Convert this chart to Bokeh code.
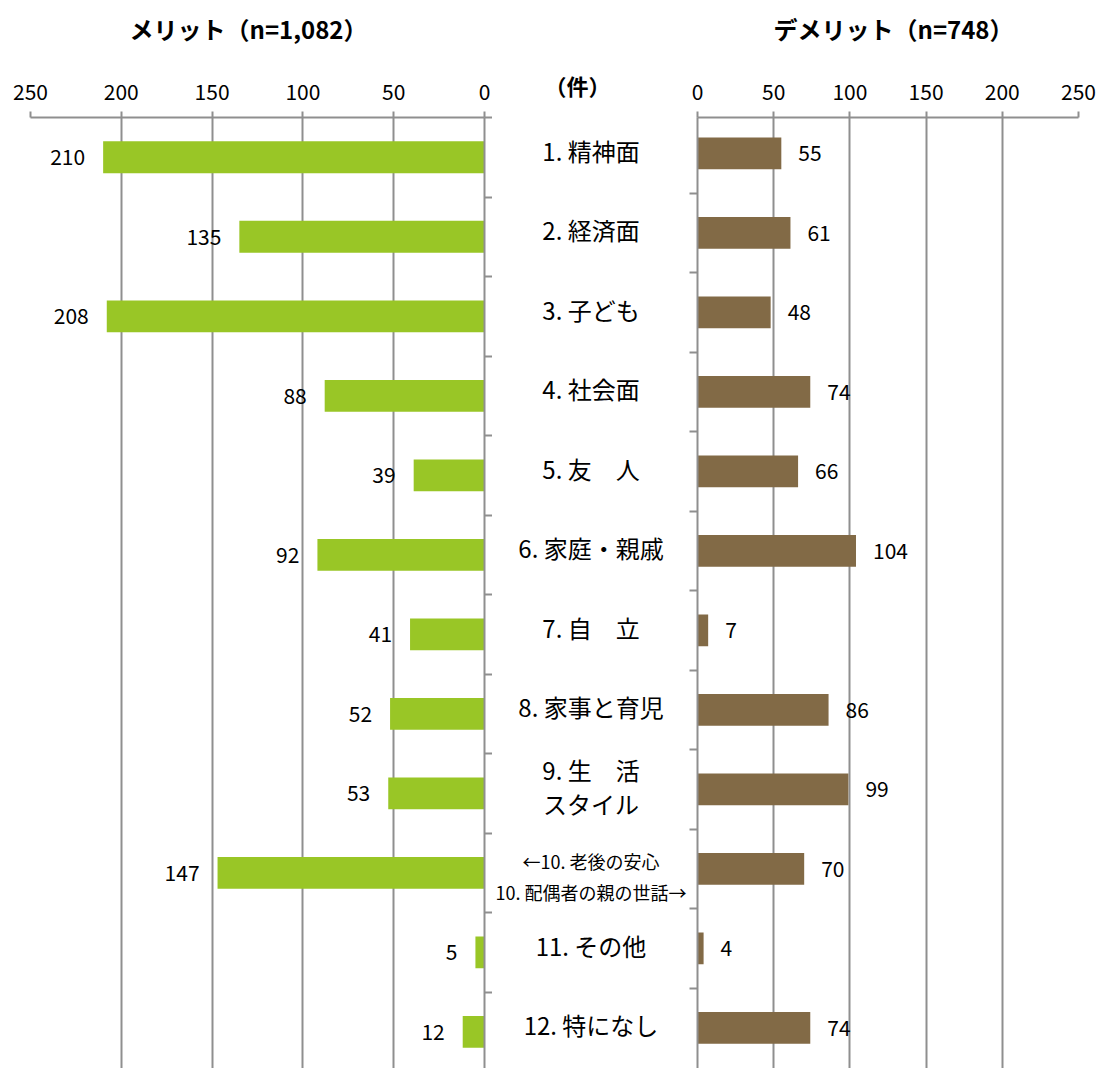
from bokeh.plotting import figure
from bokeh.layouts import row
from bokeh.models import Range1d, FixedTicker, ColumnDataSource, CDSView, IndexFilter, Title
from bokeh.core.properties import value
from bokeh.embed import file_html
from bokeh.resources import INLINE

# ---- data ----
categories = ["1. 精神面", "2. 経済面", "3. 子ども", "4. 社会面", "5. 友　人",
              "6. 家庭・親戚", "7. 自　立", "8. 家事と育児", "9. 生　活\nスタイル",
              "←10. 老後の安心\n10. 配偶者の親の世話→", "11. その他", "12. 特になし"]
merit = [210, 135, 208, 88, 39, 92, 41, 52, 53, 147, 5, 12]
demerit = [55, 61, 48, 74, 66, 104, 7, 86, 99, 70, 4, 74]
x_ticks = [0, 50, 100, 150, 200, 250]
title_merit = "メリット（n=1,082）"
title_demerit = "デメリット（n=748）"
unit_label = "（件）"

FONT = "Noto Sans CJK JP"
GREEN = "#99C626"
BROWN = "#826A46"
GRAY = "#8F8F8F"

n = len(categories)
ys = list(range(1, n + 1))
boundaries = [y - 0.5 for y in ys]
small_idx = [9]
normal_idx = [i for i in range(n) if i not in small_idx]

y_range_left = Range1d(n + 0.46, 0.5)
y_range_right = Range1d(n + 0.51, 0.55)
H = 1068
TOP = 117


def add_title(p, text, size, offset, lift):
    t = Title(text=text, text_font=FONT, text_font_size=size, text_font_style="bold",
              align="left", offset=offset, standoff=10, text_color="black",
              padding=dict(left=0, right=0, top=0, bottom=lift))
    p.add_layout(t, "above")


def style_common(p):
    p.outline_line_color = None
    p.background_fill_color = "white"
    p.border_fill_color = "white"
    p.ygrid.visible = False
    p.xgrid.ticker = FixedTicker(ticks=x_ticks)
    p.xgrid.grid_line_color = GRAY
    p.xgrid.grid_line_width = 2
    xa = p.xaxis[0]
    xa.ticker = FixedTicker(ticks=x_ticks)
    xa.axis_line_color = GRAY
    xa.axis_line_width = 2
    xa.major_tick_line_color = GRAY
    xa.major_tick_line_width = 2
    xa.major_tick_out = 6
    xa.major_tick_in = 0
    xa.minor_tick_line_color = None
    xa.major_label_text_font = FONT
    xa.major_label_text_font_size = "21px"
    xa.major_label_text_color = "black"
    xa.major_label_standoff = 12
    ya = p.yaxis[0]
    ya.ticker = FixedTicker(ticks=[], minor_ticks=boundaries)
    ya.axis_line_color = GRAY
    ya.axis_line_width = 2
    ya.major_tick_line_color = None
    ya.major_tick_out = 8
    ya.major_tick_in = 0
    ya.minor_tick_line_color = GRAY
    ya.minor_tick_line_width = 2
    ya.minor_tick_out = 8
    ya.minor_tick_in = 0
    ya.major_label_standoff = 0


# ---- left: merit ----
srcL = ColumnDataSource(dict(y=ys, v=merit, t=[str(v) for v in merit]))
pL = figure(width=492, height=H, x_range=Range1d(250, 0), y_range=y_range_left,
            x_axis_location="above", y_axis_location="right",
            output_backend="svg", toolbar_location=None, title=None,
            min_border_left=30, min_border_right=8, min_border_top=TOP, min_border_bottom=0)
style_common(pL)
add_title(pL, title_merit, "24px", 99, 30)
pL.hbar(y="y", left=0, right="v", height=0.4, source=srcL, fill_color=GREEN, line_color=None)
pL.text(x="v", y="y", text="t", source=srcL, text_align="right", text_baseline="middle",
        x_offset=-18, text_font=value(FONT), text_font_size="21px", text_color="black")

# ---- center: category labels ----
srcC = ColumnDataSource(dict(y=ys, t=categories))
pC = figure(width=197, height=H, x_range=Range1d(-1, 1), y_range=y_range_left,
            x_axis_location=None, y_axis_location=None,
            output_backend="svg", toolbar_location=None, title=None,
            min_border_left=0, min_border_right=0, min_border_top=TOP, min_border_bottom=0)
pC.outline_line_color = None
pC.grid.visible = False
add_title(pC, unit_label, "22px", 52, 12)
pC.text(x=0, y="y", text="t", source=srcC, view=CDSView(filter=IndexFilter(normal_idx)),
        text_align="center", text_baseline="middle", y_offset=-7,
        text_font=value(FONT), text_font_size="24px", text_line_height=0.955, text_color="black")
pC.text(x=0, y="y", text="t", source=srcC, view=CDSView(filter=IndexFilter(small_idx)),
        text_align="center", text_baseline="middle", y_offset=4,
        text_font=value(FONT), text_font_size="18px", text_line_height=1.2, text_color="black")

# ---- right: demerit ----
srcR = ColumnDataSource(dict(y=ys, v=demerit, t=[str(v) for v in demerit]))
pR = figure(width=410, height=H, x_range=Range1d(0, 250), y_range=y_range_right,
            x_axis_location="above", y_axis_location="left",
            output_backend="svg", toolbar_location=None, title=None,
            min_border_left=8, min_border_right=21, min_border_top=TOP, min_border_bottom=0)
style_common(pR)
add_title(pR, title_demerit, "24px", 76, 30)
pR.hbar(y="y", left=0, right="v", height=0.4, source=srcR, fill_color=BROWN, line_color=None)
pR.text(x="v", y="y", text="t", source=srcR, text_align="left", text_baseline="middle",
        x_offset=17, text_font=value(FONT), text_font_size="21px", text_color="black")

layout = row(pL, pC, pR, spacing=0)
open("out.html", "w").write(file_html(layout, INLINE))
